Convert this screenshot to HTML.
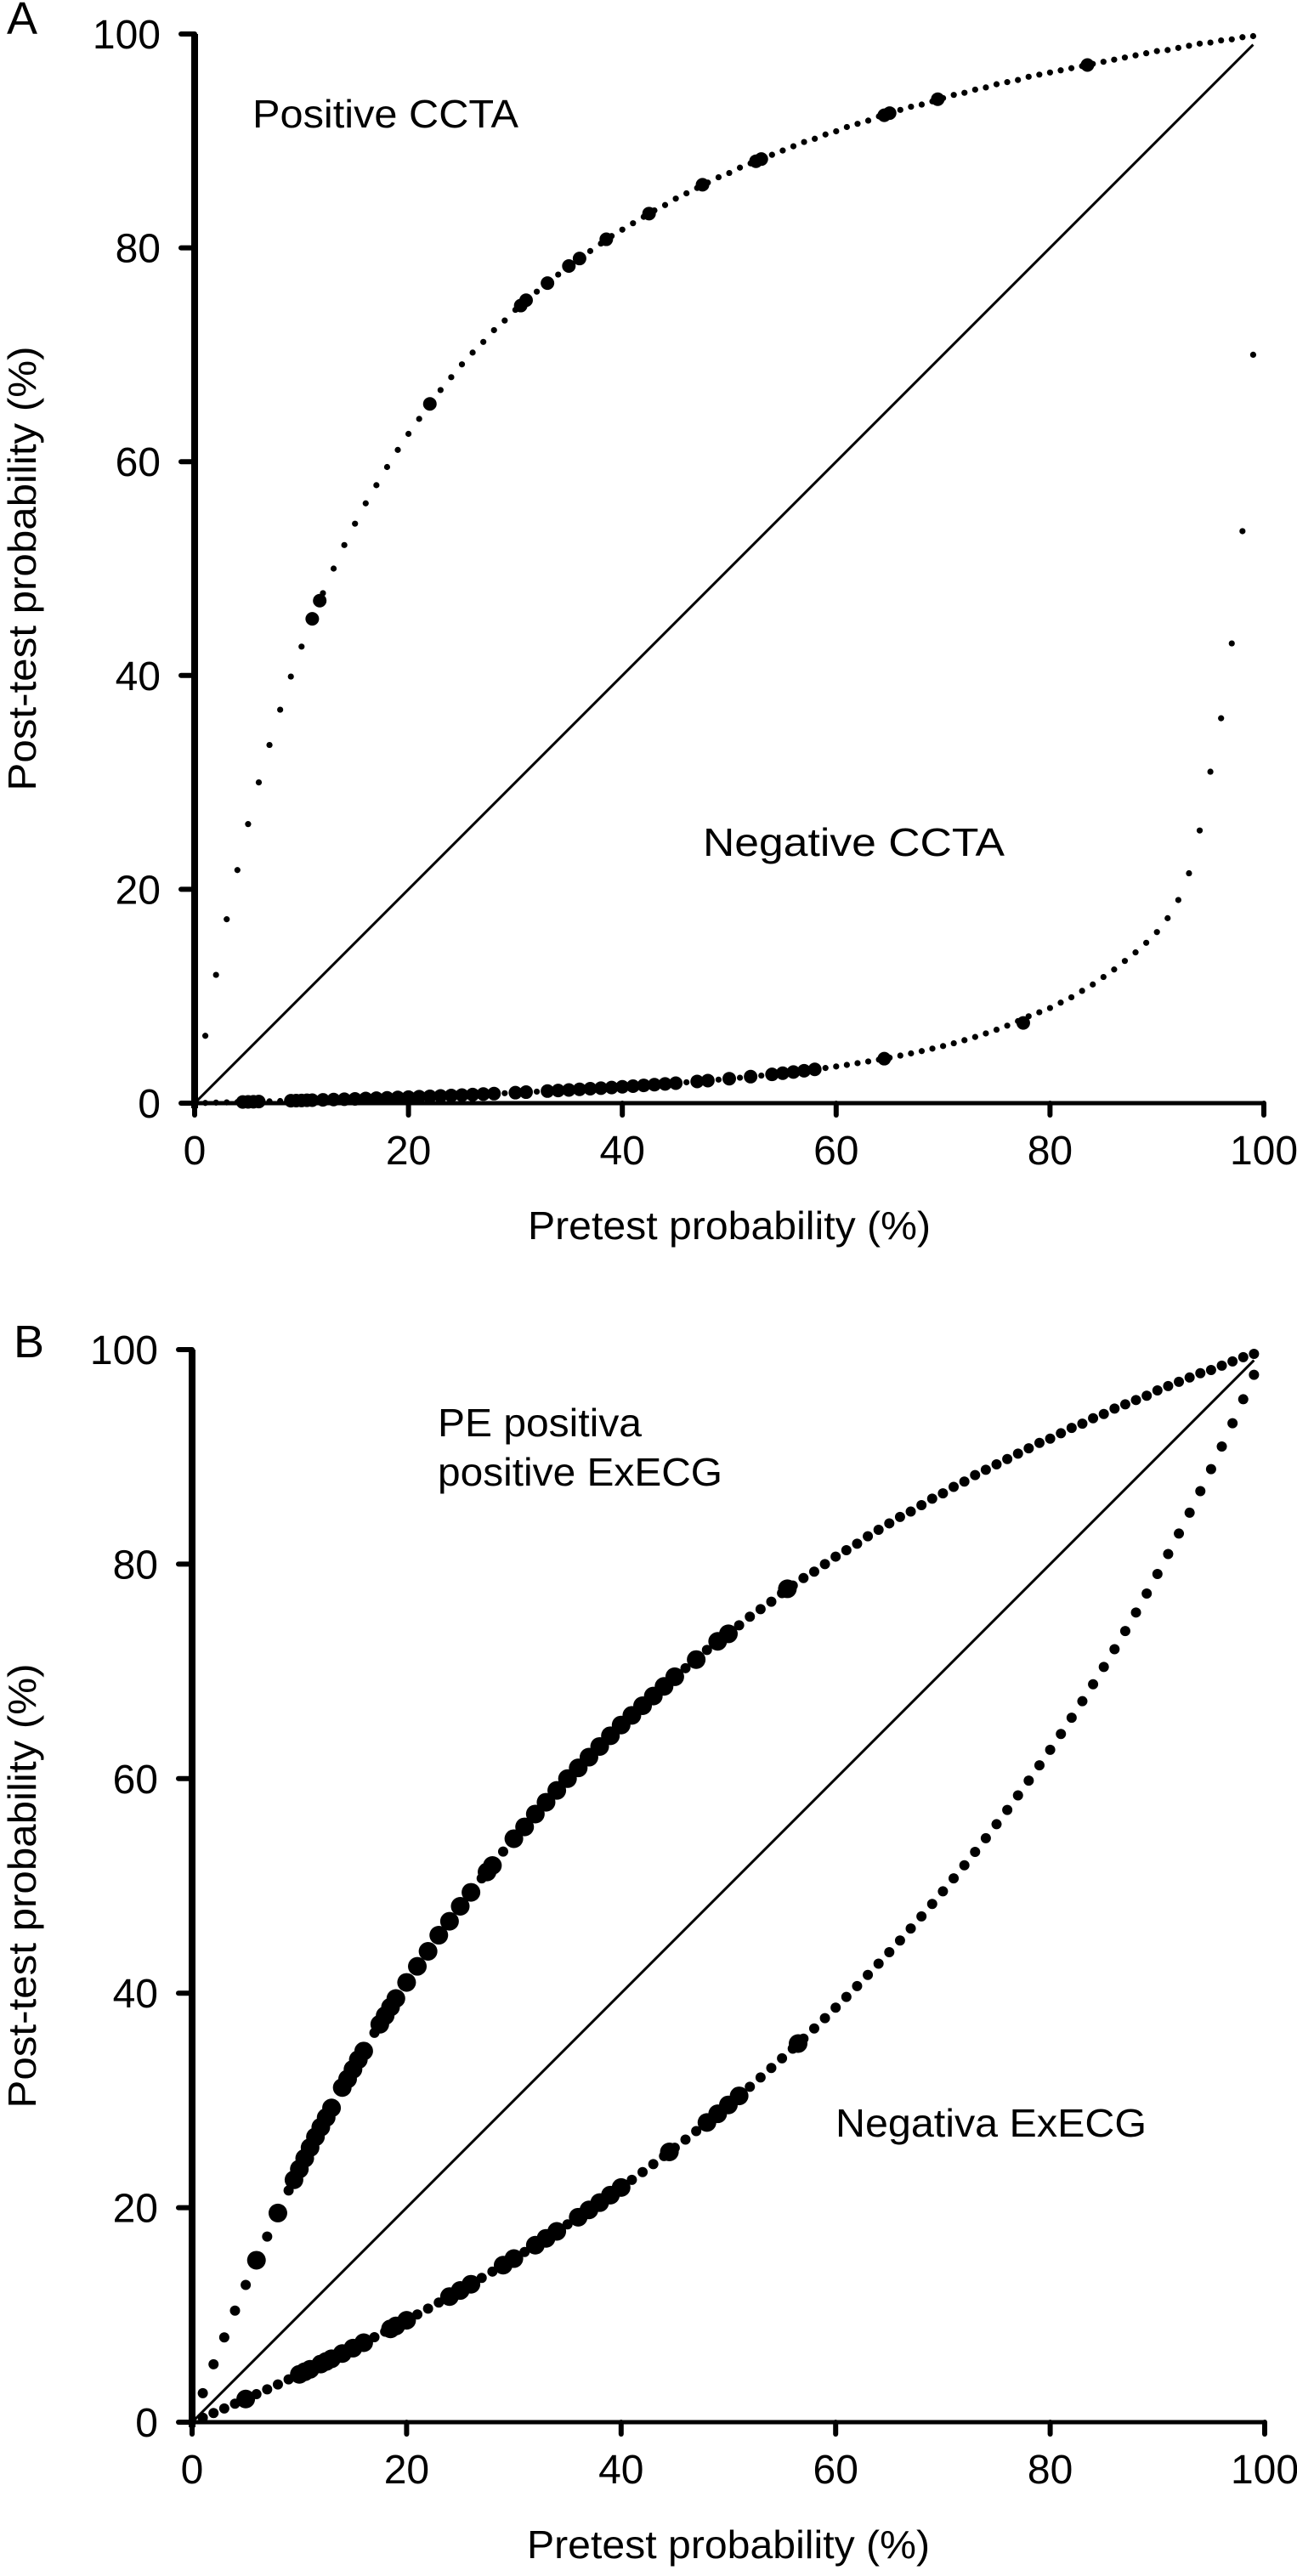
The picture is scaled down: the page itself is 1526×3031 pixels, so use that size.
<!DOCTYPE html>
<html><head><meta charset="utf-8"><style>
html,body{margin:0;padding:0;background:#fff}
svg{display:block}
text{font-family:"Liberation Sans",Arial,sans-serif;fill:#000}
</style></head><body>
<svg id="fig" width="1526" height="3031" viewBox="0 0 1526 3031" xmlns="http://www.w3.org/2000/svg"></svg>
<script>
// ---- data ----
const pretestGrid = [];
for (let i = 1; i <= 99; i++) pretestGrid.push(i);
const ticks = [0, 20, 40, 60, 80, 100];
const tickLabels = ["0", "20", "40", "60", "80", "100"];

const posCCTA = [6.3,12.0,17.2,21.8,26.1,30.0,33.5,36.8,39.9,42.7,45.3,47.7,50.0,52.2,54.2,56.1,57.8,59.5,61.1,62.6,64.0,65.4,66.7,67.9,69.1,70.2,71.2,72.3,73.2,74.2,75.1,75.9,76.7,77.5,78.3,79.0,79.7,80.4,81.1,81.7,82.3,82.9,83.5,84.0,84.6,85.1,85.6,86.1,86.6,87.0,87.5,87.9,88.3,88.7,89.1,89.5,89.9,90.2,90.6,90.9,91.3,91.6,91.9,92.3,92.6,92.9,93.2,93.4,93.7,94.0,94.3,94.5,94.8,95.0,95.3,95.5,95.7,96.0,96.2,96.4,96.6,96.8,97.0,97.2,97.4,97.6,97.8,98.0,98.2,98.4,98.5,98.7,98.9,99.1,99.2,99.4,99.5,99.7,99.8];
const negCCTA = [0.02,0.05,0.07,0.10,0.12,0.15,0.17,0.20,0.23,0.25,0.28,0.31,0.34,0.37,0.40,0.44,0.47,0.50,0.54,0.57,0.61,0.64,0.68,0.72,0.76,0.80,0.85,0.89,0.93,0.98,1.03,1.08,1.13,1.18,1.23,1.29,1.35,1.40,1.46,1.53,1.59,1.66,1.73,1.80,1.87,1.95,2.03,2.11,2.20,2.29,2.38,2.48,2.58,2.69,2.80,2.91,3.03,3.16,3.29,3.43,3.58,3.74,3.90,4.07,4.25,4.45,4.65,4.87,5.10,5.34,5.60,5.89,6.19,6.52,6.87,7.25,7.67,8.12,8.5,8.9,9.4,9.9,10.5,11.1,11.8,12.5,13.3,14.1,15.0,16.0,17.3,19.0,21.5,25.5,31,36,43,53.5,70];
const posExECG = [2.7,5.4,7.9,10.4,12.8,15.1,17.3,19.5,21.6,23.6,25.6,27.5,29.3,31.2,32.9,34.6,36.3,37.9,39.5,41.0,42.5,43.9,45.4,46.7,48.1,49.4,50.7,51.9,53.2,54.4,55.5,56.7,57.8,58.9,60.0,61.0,62.0,63.0,64.0,65.0,65.9,66.8,67.7,68.6,69.5,70.3,71.1,72.0,72.8,73.5,74.3,75.1,75.8,76.5,77.3,78.0,78.7,79.3,80.0,80.7,81.3,81.9,82.6,83.2,83.8,84.4,84.9,85.5,86.1,86.6,87.2,87.7,88.3,88.8,89.3,89.8,90.3,90.8,91.3,91.7,92.2,92.7,93.1,93.6,94.0,94.5,94.9,95.3,95.7,96.2,96.6,97.0,97.4,97.8,98.1,98.5,98.9,99.3,99.6];
const negExECG = [0.42,0.85,1.28,1.72,2.16,2.61,3.06,3.52,3.99,4.46,4.93,5.42,5.91,6.40,6.90,7.41,7.92,8.44,8.97,9.50,10.04,10.59,11.15,11.71,12.28,12.86,13.45,14.04,14.64,15.25,15.87,16.50,17.14,17.79,18.44,19.11,19.79,20.47,21.17,21.88,22.59,23.32,24.06,24.81,25.58,26.35,27.14,27.94,28.75,29.58,30.42,31.27,32.14,33.02,33.92,34.83,35.76,36.71,37.67,38.65,39.65,40.66,41.70,42.75,43.82,44.91,46.03,47.16,48.32,49.49,50.70,51.92,53.17,54.45,55.75,57.08,58.44,59.82,61.24,62.69,64.16,65.68,67.22,68.80,70.41,72.07,73.76,75.49,77.26,79.08,80.94,82.85,84.80,86.81,88.86,90.97,93.14,95.37,97.65];

const posCCTAPatX = [11,11.7,22,30.5,31,33,35,36,38.5,42.5,47.5,52.5,53,64.5,65,69.5,83.5];
const posCCTAPatY = [45.3,47,65.4,74.6,75.1,76.7,78.3,79,80.8,83.2,85.9,88.1,88.3,92.4,92.6,93.9,97.1];
const negCCTAPatX = [4.5,5,5.5,6,9,9.5,10,10.5,11,12,13,14,15,16,17,18,19,20,21,22,23,24,25,26,27,28,30,31,33,34,35,36,37,38,39,40,41,42,43,44,45,47,48,50,52,54,55,56,57,58,64.5,77.5];
const negCCTAPatY = [0.11,0.12,0.13,0.15,0.23,0.24,0.25,0.27,0.28,0.31,0.34,0.37,0.4,0.44,0.47,0.5,0.54,0.57,0.61,0.64,0.68,0.72,0.76,0.8,0.85,0.89,0.98,1.03,1.13,1.18,1.23,1.29,1.35,1.4,1.46,1.53,1.59,1.66,1.73,1.8,1.87,2.03,2.11,2.29,2.48,2.69,2.8,2.91,3.03,3.16,4.16,7.5];
const posExPatX = [6,8,9.5,10,10.5,11,11.5,12,12.5,13,14,14.5,15,15.5,16,17.5,18,18.5,19,20,21,22,23,24,25,26,27.5,28,30,31,32,33,34,35,36,37,38,39,40,41,42,43,44,45,47,49,50,55.5];
const posExPatY = [15.1,19.5,22.6,23.6,24.6,25.6,26.6,27.5,28.4,29.3,31.2,32,32.9,33.8,34.6,37.1,37.9,38.7,39.5,41,42.5,43.9,45.4,46.7,48.1,49.4,51.3,51.9,54.4,55.5,56.7,57.8,58.9,60,61,62,63,64,65,65.9,66.8,67.7,68.6,69.5,71.1,72.8,73.5,77.7];
const negExPatX = [5,10,10.5,11,12,12.5,13,14,15,16,18.5,19,20,24,25,26,29,30,32,33,34,36,37,38,39,40,44.5,48,49,50,51,56.5];
const negExPatY = [2.16,4.46,4.7,4.93,5.42,5.66,5.91,6.4,6.9,7.41,8.7,8.97,9.5,11.71,12.28,12.86,14.64,15.25,16.5,17.14,17.79,19.11,19.79,20.47,21.17,21.88,25.2,27.94,28.75,29.58,30.42,35.3];
const identityEnd = 99;

// ---- drawing ----
const NS = "http://www.w3.org/2000/svg";
const svg = document.getElementById("fig");
function mk(tag, attrs, parent) {
  const e = document.createElementNS(NS, tag);
  for (const k in attrs) e.setAttribute(k, attrs[k]);
  (parent || svg).appendChild(e);
  return e;
}
function txt(s, attrs, parent) { const t = mk("text", attrs, parent); t.textContent = s; return t; }

function panel(cfg) {
  const g = mk("g", {});
  
  
  const X = v => cfg.x0 + (cfg.x1 - cfg.x0) * v / 100;
  const Y = v => cfg.y0 - (cfg.y0 - cfg.y1) * v / 100;

  const lab = txt(cfg.letter, {x: cfg.letterX, y: cfg.letterY, "font-size": 54}, g);
  
  

  const id = mk("line", {x1: X(0), y1: Y(0), x2: X(identityEnd), y2: Y(identityEnd), stroke: "#000", "stroke-width": 3}, g);
  
  

  const ya = mk("line", {x1: X(0), y1: Y(0) + 6, x2: X(0), y2: Y(100), stroke: "#000", "stroke-width": 8}, g);
  
  
  const xa = mk("line", {x1: X(0) - 16, y1: Y(0), x2: X(100) + 2, y2: Y(0), stroke: "#000", "stroke-width": 5}, g);
  
  
  ticks.forEach((t, i) => {
    const ty = mk("line", {x1: X(0) - 16, y1: Y(t), x2: X(0), y2: Y(t), stroke: "#000", "stroke-width": 6, "stroke-linecap": "round"}, g);
    
    
    const tl = txt(tickLabels[i], {x: X(0) - 40, y: Y(t) + 17, "font-size": 48, "text-anchor": "end"}, g);
    
    
    const tx = mk("line", {x1: X(t), y1: Y(0), x2: X(t), y2: Y(0) + 14, stroke: "#000", "stroke-width": 6, "stroke-linecap": "round"}, g);
    
    
    const xl = txt(tickLabels[i], {x: X(t), y: Y(0) + 72, "font-size": 48, "text-anchor": "middle"}, g);
    
    
  });
  const xt = txt("Pretest probability (%)", {x: (X(0) + X(100)) / 2, y: Y(0) + 160, "font-size": 46, "text-anchor": "middle", textLength: 474, lengthAdjust: "spacingAndGlyphs"}, g);
  
  
  const cy = (Y(0) + Y(100)) / 2;
  const yt = txt("Post-test probability (%)", {x: 42, y: cy, "font-size": 46, "text-anchor": "middle", textLength: 523, lengthAdjust: "spacingAndGlyphs", transform: `rotate(-90 42 ${cy})`}, g);
  
  

  cfg.series.forEach(s => {
    const sg = mk("g", {fill: "#000"}, g);
    
    
    pretestGrid.forEach((p, i) => {
      const c = mk("circle", {cx: X(p), cy: Y(s.vals[i]), r: cfg.rSmall}, sg);
      
      
    });
    s.px.forEach((p, i) => {
      const c = mk("circle", {cx: X(p), cy: Y(s.py[i]), r: cfg.rBig}, sg);
      
      
    });
  });
  cfg.notes.forEach(n => {
    const t = txt(n.t, {x: n.x, y: n.y, "font-size": 46, textLength: n.w, lengthAdjust: "spacingAndGlyphs"}, g);
    
    
  });
}

panel({name: "panel-a", letter: "A", letterX: 8, letterY: 40, x0: 229, x1: 1487, y0: 1298, y1: 40, rSmall: 3.6, rBig: 8,
  series: [
    {name: "positive-ccta-series", vals: posCCTA, px: posCCTAPatX, py: posCCTAPatY},
    {name: "negative-ccta-series", vals: negCCTA, px: negCCTAPatX, py: negCCTAPatY}
  ],
  notes: [
    {t: "Positive CCTA", x: 297, y: 150, w: 313, name: "positive-ccta-label"},
    {t: "Negative CCTA", x: 827, y: 1007, w: 355, name: "negative-ccta-label"}
  ]});

panel({name: "panel-b", letter: "B", letterX: 16, letterY: 1597, x0: 226, x1: 1488, y0: 2850, y1: 1588, rSmall: 6, rBig: 11,
  series: [
    {name: "positive-execg-series", vals: posExECG, px: posExPatX, py: posExPatY},
    {name: "negative-execg-series", vals: negExECG, px: negExPatX, py: negExPatY}
  ],
  notes: [
    {t: "PE positiva", x: 515, y: 1690, w: 240, name: "pe-positiva-label"},
    {t: "positive ExECG", x: 515, y: 1748, w: 335, name: "positive-execg-label"},
    {t: "Negativa ExECG", x: 983, y: 2514, w: 366, name: "negativa-execg-label"}
  ]});
</script>
</body></html>
